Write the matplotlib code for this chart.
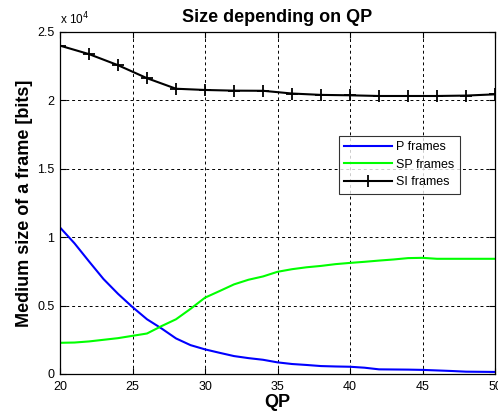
import numpy as np
import matplotlib.pyplot as plt

plt.rcParams['font.family'] = ['Liberation Sans', 'DejaVu Sans']

# QP values and mean frame sizes [bits]
qp = np.arange(20, 51)
p_frames = [10710, 9550, 8230, 6940, 5860, 4890, 4000, 3330, 2600, 2110,
            1800, 1550, 1310, 1160, 1040, 850, 730, 660, 580, 550,
            530, 460, 340, 330, 320, 300, 260, 220, 170, 160, 150]
sp_frames = [2280, 2300, 2380, 2500, 2620, 2790, 2960, 3500, 4000, 4760,
             5580, 6060, 6550, 6890, 7130, 7470, 7660, 7800, 7900, 8030,
             8120, 8200, 8290, 8370, 8470, 8490, 8420, 8420, 8420, 8420, 8420]
qp_si = np.arange(20, 51, 2)
si_frames = [24000, 23380, 22570, 21620, 20850, 20760, 20710, 20700,
             20500, 20400, 20370, 20320, 20320, 20320, 20350, 20440]

fig = plt.figure(figsize=(4.98, 4.15), dpi=100)
ax = fig.add_axes([0.1205, 0.0988, 0.8735, 0.8242])

ax.plot(qp, p_frames, color='#0000ff', lw=1.5, label='P frames')
ax.plot(qp, sp_frames, color='#00ff00', lw=1.5, label='SP frames')
ax.plot(qp_si, si_frames, color='black', lw=1.5, marker='+', ms=9, mew=1.3,
        label='SI frames')

ax.set_xlim(20, 50)
ax.set_ylim(0, 25000)
ax.set_xticks(range(20, 51, 5))
ax.set_yticks(np.arange(0, 25001, 5000))
ax.set_yticklabels(['0', '0.5', '1', '1.5', '2', '2.5'])
ax.tick_params(direction='in', top=True, right=True, labelsize=9, length=4,
               width=0.8)
ax.tick_params(axis='x', pad=5)
ax.tick_params(axis='y', pad=4)
ax.grid(True, color='black', ls=(0, (3, 3)), lw=0.7)
for s in ax.spines.values():
    s.set_linewidth(0.9)

ax.text(0.0, 1.015, r'x 10$^4$', transform=ax.transAxes, fontsize=8.5,
        ha='left', va='bottom')
ax.set_title('Size depending on QP', fontsize=13, fontweight='bold', pad=7)
ax.set_xlabel('QP', fontsize=13, fontweight='bold', labelpad=1)
ax.set_ylabel('Medium size of a frame [bits]', fontsize=13,
              fontweight='bold', labelpad=3)

leg = ax.legend(loc='upper left', bbox_to_anchor=(0.641, 0.697), fontsize=9,
                frameon=True, fancybox=False, edgecolor='black',
                handlelength=3.8, borderpad=0.45, labelspacing=0.45,
                handletextpad=0.3, borderaxespad=0)
leg.get_frame().set_linewidth(0.8)

fig.savefig('out.png', dpi=100)
